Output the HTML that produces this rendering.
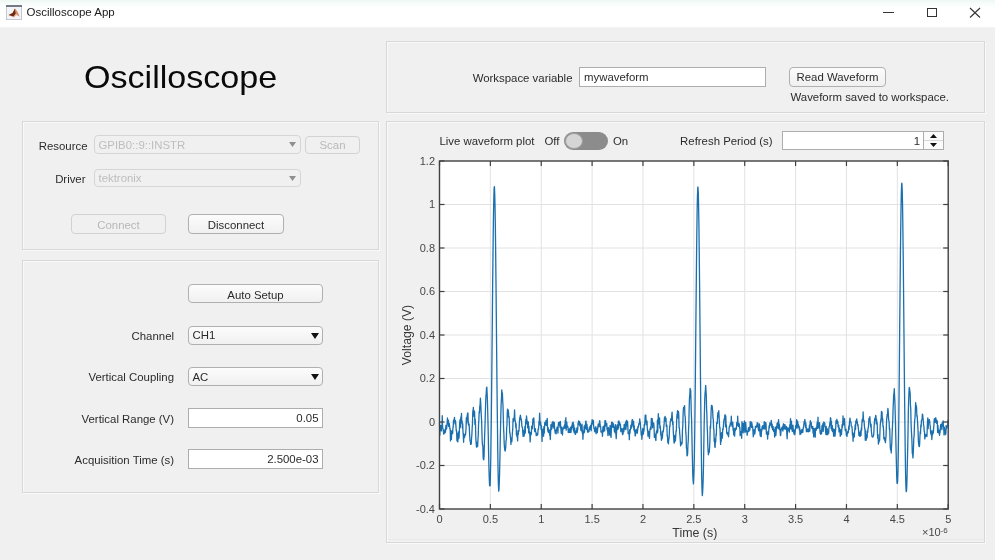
<!DOCTYPE html>
<html><head><meta charset="utf-8"><style>
html,body{margin:0;padding:0;}
body{width:995px;height:560px;position:relative;overflow:hidden;background:#f0f0f0;font-family:"Liberation Sans", sans-serif;}
#wrap{background:#f0f0f0;}
#wrap{position:absolute;left:0;top:0;width:995px;height:560px;filter:blur(0.4px);}
</style></head><body><div id="wrap">
<div style="position:absolute;left:0px;top:0px;width:995px;height:27px;box-sizing:border-box;background:linear-gradient(#edf8f3 0px,#f8fdfb 4px,#ffffff 8px,#ffffff 27px);"></div>
<div style="position:absolute;left:0px;top:27px;width:995px;height:1px;box-sizing:border-box;background:#f4f4f4;"></div>
<svg style="position:absolute;left:6px;top:5px" width="16" height="15" viewBox="0 0 16 15">
<rect x="0.5" y="0.5" width="15" height="14" fill="#f3f4f7" stroke="#c3c8d0"/>
<rect x="0" y="0" width="16" height="2" fill="#737a86"/>
<path d="M2.5 10 L6.5 8 L9 3.5 L11.5 7 L13.5 11.5 L10.5 10 L8 12.5 Z" fill="#eab9a0"/>
<path d="M2.5 10 L6.5 8 L9 3.5 L9.8 8.5 L7.5 11.5 Z" fill="#6e2a12"/>
<path d="M9 3.5 L11.5 7 L13.5 11.5 L10.5 9.5 Z" fill="#d88a63"/>
</svg>
<div style="position:absolute;left:26.50px;top:7.17px;font-size:11.5px;line-height:11.5px;color:#1a1a1a;white-space:nowrap;">Oscilloscope App</div>
<div style="position:absolute;left:883px;top:12px;width:11px;height:1px;background:#333"></div>
<div style="position:absolute;left:927px;top:8px;width:10px;height:9px;border:1px solid #333;box-sizing:border-box"></div>
<svg style="position:absolute;left:969px;top:7px" width="12" height="11" viewBox="0 0 12 11"><path d="M1 1 L11 10.5 M11 1 L1 10.5" stroke="#333" stroke-width="1.1"/></svg>
<div style="position:absolute;left:83.60px;top:60.71px;font-size:32px;line-height:32px;color:#0a0a0a;white-space:nowrap;transform:scaleX(1.065);transform-origin:left;">Oscilloscope</div>
<div style="position:absolute;left:22px;top:121px;width:357px;height:129px;box-sizing:border-box;border:1px solid #d8d8d8;box-shadow:inset 1px 1px 0 #f9f9f9, 1px 1px 0 #f9f9f9;"></div>
<div style="position:absolute;left:22px;top:260px;width:357px;height:233px;box-sizing:border-box;border:1px solid #d8d8d8;box-shadow:inset 1px 1px 0 #f9f9f9, 1px 1px 0 #f9f9f9;"></div>
<div style="position:absolute;left:386px;top:41px;width:599px;height:72px;box-sizing:border-box;border:1px solid #d8d8d8;box-shadow:inset 1px 1px 0 #f9f9f9, 1px 1px 0 #f9f9f9;"></div>
<div style="position:absolute;left:386px;top:121px;width:599px;height:422px;box-sizing:border-box;border:1px solid #d8d8d8;box-shadow:inset 1px 1px 0 #f9f9f9, 1px 1px 0 #f9f9f9;"></div>
<div style="position:absolute;left:388px;top:539px;width:596px;height:1px;background:#e9e9e9"></div>
<div style="position:absolute;right:907.50px;top:140.75px;font-size:11.4px;line-height:11.4px;color:#2b2b2b;white-space:nowrap;">Resource</div>
<div style="position:absolute;left:94px;top:135px;width:207px;height:19px;box-sizing:border-box;border:1px solid #d5d5d5;border-radius:4px;background:#f0f0f0;"></div>
<div style="position:absolute;left:98.50px;top:139.85px;font-size:11.4px;line-height:11.4px;color:#bdbdbd;white-space:nowrap;">GPIB0::9::INSTR</div>
<svg style="position:absolute;left:289.0px;top:142.0px" width="7" height="5"><path d="M0 0 L7 0 L3.5 5 Z" fill="#8f8f8f"/></svg>
<div style="position:absolute;left:305px;top:136px;width:55px;height:18px;box-sizing:border-box;border:1px solid #d2d2d2;border-radius:4px;background:#f0f0f0;"></div>
<div style="position:absolute;left:332.50px;top:140.45px;font-size:11.4px;line-height:11.4px;color:#b8b8b8;white-space:nowrap;transform:translateX(-50%) scaleX(1.0);">Scan</div>
<div style="position:absolute;right:909.50px;top:173.75px;font-size:11.4px;line-height:11.4px;color:#2b2b2b;white-space:nowrap;">Driver</div>
<div style="position:absolute;left:94px;top:169px;width:207px;height:18px;box-sizing:border-box;border:1px solid #d5d5d5;border-radius:4px;background:#f0f0f0;"></div>
<div style="position:absolute;left:98.50px;top:173.25px;font-size:11.4px;line-height:11.4px;color:#bdbdbd;white-space:nowrap;">tektronix</div>
<svg style="position:absolute;left:289.0px;top:175.5px" width="7" height="5"><path d="M0 0 L7 0 L3.5 5 Z" fill="#8f8f8f"/></svg>
<div style="position:absolute;left:71px;top:214px;width:95px;height:20px;box-sizing:border-box;border:1px solid #d2d2d2;border-radius:4px;background:#f0f0f0;"></div>
<div style="position:absolute;left:118.50px;top:220.15px;font-size:11.4px;line-height:11.4px;color:#b8b8b8;white-space:nowrap;transform:translateX(-50%) scaleX(1.0);">Connect</div>
<div style="position:absolute;left:188px;top:214px;width:96px;height:20px;box-sizing:border-box;border:1px solid #b0b0b0;border-radius:4px;background:linear-gradient(#fcfcfc,#f0f0f0);"></div>
<div style="position:absolute;left:236.00px;top:219.95px;font-size:11.4px;line-height:11.4px;color:#2b2b2b;white-space:nowrap;transform:translateX(-50%) scaleX(1.0);">Disconnect</div>
<div style="position:absolute;left:188px;top:284px;width:135px;height:19px;box-sizing:border-box;border:1px solid #b0b0b0;border-radius:4px;background:linear-gradient(#fcfcfc,#f0f0f0);"></div>
<div style="position:absolute;left:255.50px;top:289.55px;font-size:11.4px;line-height:11.4px;color:#2b2b2b;white-space:nowrap;transform:translateX(-50%) scaleX(1.0);">Auto Setup</div>
<div style="position:absolute;right:821.00px;top:330.85px;font-size:11.4px;line-height:11.4px;color:#2b2b2b;white-space:nowrap;">Channel</div>
<div style="position:absolute;left:188px;top:326px;width:135px;height:19px;box-sizing:border-box;border:1px solid #b0b0b0;border-radius:4px;background:linear-gradient(#fcfcfc,#f0f0f0);"></div>
<div style="position:absolute;left:192.50px;top:330.15px;font-size:11.4px;line-height:11.4px;color:#2b2b2b;white-space:nowrap;">CH1</div>
<svg style="position:absolute;left:310.5px;top:332.5px" width="8" height="6"><path d="M0 0 L8 0 L4.0 6 Z" fill="#111"/></svg>
<div style="position:absolute;right:821.00px;top:371.85px;font-size:11.4px;line-height:11.4px;color:#2b2b2b;white-space:nowrap;">Vertical Coupling</div>
<div style="position:absolute;left:188px;top:367px;width:135px;height:19px;box-sizing:border-box;border:1px solid #b0b0b0;border-radius:4px;background:linear-gradient(#fcfcfc,#f0f0f0);"></div>
<div style="position:absolute;left:192.50px;top:372.15px;font-size:11.4px;line-height:11.4px;color:#2b2b2b;white-space:nowrap;">AC</div>
<svg style="position:absolute;left:310.5px;top:373.5px" width="8" height="6"><path d="M0 0 L8 0 L4.0 6 Z" fill="#111"/></svg>
<div style="position:absolute;right:821.00px;top:413.75px;font-size:11.4px;line-height:11.4px;color:#2b2b2b;white-space:nowrap;">Vertical Range (V)</div>
<div style="position:absolute;left:188px;top:408px;width:135px;height:20px;box-sizing:border-box;border:1px solid #adadad;background:#fff;"></div>
<div style="position:absolute;right:676.50px;top:413.15px;font-size:11.4px;line-height:11.4px;color:#2b2b2b;white-space:nowrap;">0.05</div>
<div style="position:absolute;right:821.00px;top:454.55px;font-size:11.4px;line-height:11.4px;color:#2b2b2b;white-space:nowrap;">Acquisition Time (s)</div>
<div style="position:absolute;left:188px;top:449px;width:135px;height:20px;box-sizing:border-box;border:1px solid #adadad;background:#fff;"></div>
<div style="position:absolute;right:676.50px;top:453.85px;font-size:11.4px;line-height:11.4px;color:#2b2b2b;white-space:nowrap;">2.500e-03</div>
<div style="position:absolute;right:422.50px;top:72.75px;font-size:11.4px;line-height:11.4px;color:#2b2b2b;white-space:nowrap;">Workspace variable</div>
<div style="position:absolute;left:579px;top:67px;width:187px;height:20px;box-sizing:border-box;border:1px solid #adadad;background:#fff;"></div>
<div style="position:absolute;left:584.00px;top:72.35px;font-size:11.4px;line-height:11.4px;color:#2b2b2b;white-space:nowrap;">mywaveform</div>
<div style="position:absolute;left:789px;top:67px;width:97px;height:20px;box-sizing:border-box;border:1px solid #b0b0b0;border-radius:4px;background:linear-gradient(#fcfcfc,#f0f0f0);"></div>
<div style="position:absolute;left:837.50px;top:72.15px;font-size:11.4px;line-height:11.4px;color:#2b2b2b;white-space:nowrap;transform:translateX(-50%) scaleX(1.0);">Read Waveform</div>
<div style="position:absolute;left:790.50px;top:91.65px;font-size:11.4px;line-height:11.4px;color:#2b2b2b;white-space:nowrap;">Waveform saved to workspace.</div>
<div style="position:absolute;left:439.50px;top:136.45px;font-size:11.4px;line-height:11.4px;color:#2b2b2b;white-space:nowrap;">Live waveform plot</div>
<div style="position:absolute;left:544.50px;top:136.45px;font-size:11.4px;line-height:11.4px;color:#2b2b2b;white-space:nowrap;">Off</div>
<div style="position:absolute;left:564px;top:132px;width:44px;height:18px;box-sizing:border-box;border-radius:9px;background:#8c8c8c;"></div>
<div style="position:absolute;left:565px;top:133px;width:18px;height:16px;box-sizing:border-box;border-radius:50%;background:#d5d5d5;border:1px solid #a0a0a0;"></div>
<div style="position:absolute;left:613.00px;top:136.45px;font-size:11.4px;line-height:11.4px;color:#2b2b2b;white-space:nowrap;">On</div>
<div style="position:absolute;right:222.50px;top:136.25px;font-size:11.4px;line-height:11.4px;color:#2b2b2b;white-space:nowrap;">Refresh Period (s)</div>
<div style="position:absolute;left:782px;top:131px;width:162px;height:19px;box-sizing:border-box;border:1px solid #adadad;background:#fff;"></div>
<div style="position:absolute;left:923px;top:131px;width:21px;height:19px;box-sizing:border-box;border:1px solid #adadad;background:#fbfbfb;"></div>
<div style="position:absolute;left:924px;top:140px;width:19px;height:1px;background:#d8d8d8"></div>
<svg style="position:absolute;left:930px;top:134px" width="7" height="4"><path d="M0 4 L7 4 L3.5 0 Z" fill="#111"/></svg>
<svg style="position:absolute;left:930px;top:143px" width="7" height="4"><path d="M0 0 L7 0 L3.5 4 Z" fill="#111"/></svg>
<div style="position:absolute;right:75.00px;top:136.45px;font-size:11.4px;line-height:11.4px;color:#2b2b2b;white-space:nowrap;">1</div>
<svg style="position:absolute;left:0;top:0" width="995" height="560" viewBox="0 0 995 560">
<rect x="439.5" y="161.0" width="508.70000000000005" height="348.0" fill="#fff"/>
<line x1="490.37" y1="161.0" x2="490.37" y2="509.0" stroke="#e2e2e2" stroke-width="1"/>
<line x1="541.24" y1="161.0" x2="541.24" y2="509.0" stroke="#e2e2e2" stroke-width="1"/>
<line x1="592.11" y1="161.0" x2="592.11" y2="509.0" stroke="#e2e2e2" stroke-width="1"/>
<line x1="642.98" y1="161.0" x2="642.98" y2="509.0" stroke="#e2e2e2" stroke-width="1"/>
<line x1="693.85" y1="161.0" x2="693.85" y2="509.0" stroke="#e2e2e2" stroke-width="1"/>
<line x1="744.72" y1="161.0" x2="744.72" y2="509.0" stroke="#e2e2e2" stroke-width="1"/>
<line x1="795.59" y1="161.0" x2="795.59" y2="509.0" stroke="#e2e2e2" stroke-width="1"/>
<line x1="846.46" y1="161.0" x2="846.46" y2="509.0" stroke="#e2e2e2" stroke-width="1"/>
<line x1="897.33" y1="161.0" x2="897.33" y2="509.0" stroke="#e2e2e2" stroke-width="1"/>
<line x1="439.5" y1="465.50" x2="948.2" y2="465.50" stroke="#e2e2e2" stroke-width="1"/>
<line x1="439.5" y1="422.00" x2="948.2" y2="422.00" stroke="#e2e2e2" stroke-width="1"/>
<line x1="439.5" y1="378.50" x2="948.2" y2="378.50" stroke="#e2e2e2" stroke-width="1"/>
<line x1="439.5" y1="335.00" x2="948.2" y2="335.00" stroke="#e2e2e2" stroke-width="1"/>
<line x1="439.5" y1="291.50" x2="948.2" y2="291.50" stroke="#e2e2e2" stroke-width="1"/>
<line x1="439.5" y1="248.00" x2="948.2" y2="248.00" stroke="#e2e2e2" stroke-width="1"/>
<line x1="439.5" y1="204.50" x2="948.2" y2="204.50" stroke="#e2e2e2" stroke-width="1"/>
<polyline points="439.50,422.22 439.81,435.33 440.11,425.41 440.42,427.64 440.72,426.67 441.03,425.54 441.33,430.87 441.64,425.54 441.94,427.86 442.25,415.74 442.55,426.03 442.86,428.79 443.16,429.66 443.47,431.91 443.77,434.07 444.08,432.85 444.38,430.74 444.69,433.17 444.99,429.42 445.30,432.49 445.60,431.02 445.91,425.34 446.21,427.13 446.52,428.98 446.83,426.65 447.13,423.23 447.44,417.99 447.74,424.04 448.05,423.68 448.35,420.05 448.66,426.39 448.96,425.57 449.27,423.32 449.57,425.79 449.88,428.94 450.18,428.81 450.49,440.91 450.79,430.33 451.10,437.09 451.40,439.47 451.71,433.24 452.01,431.11 452.32,433.27 452.62,433.50 452.93,428.20 453.23,426.41 453.54,420.03 453.85,420.36 454.15,420.79 454.46,417.28 454.76,421.20 455.07,423.95 455.37,420.54 455.68,422.28 455.98,426.84 456.29,430.95 456.59,430.26 456.90,440.77 457.20,432.91 457.51,434.79 457.81,441.85 458.12,436.48 458.42,438.64 458.73,431.72 459.03,437.95 459.34,431.87 459.64,424.07 459.95,419.92 460.25,427.54 460.56,420.57 460.87,416.87 461.17,419.41 461.48,413.31 461.78,423.28 462.09,420.85 462.39,428.00 462.70,423.77 463.00,431.44 463.31,435.62 463.61,442.32 463.92,433.82 464.22,437.56 464.53,437.42 464.83,435.04 465.14,435.23 465.44,435.22 465.75,432.11 466.05,428.25 466.36,417.85 466.66,423.10 466.97,417.84 467.28,415.37 467.58,413.24 467.89,412.95 468.19,420.49 468.50,425.00 468.80,423.60 469.11,424.23 469.41,430.06 469.72,435.85 470.02,440.93 470.33,441.51 470.63,444.32 470.94,440.85 471.24,444.09 471.55,438.27 471.85,434.95 472.16,428.16 472.46,424.00 472.77,411.92 473.07,410.72 473.38,407.34 473.68,416.06 473.99,410.41 474.30,412.41 474.60,411.72 474.91,424.44 475.21,419.14 475.52,425.26 475.82,438.35 476.13,442.79 476.43,446.71 476.74,447.20 477.04,446.71 477.35,441.86 477.65,446.19 477.96,439.04 478.26,435.25 478.57,423.83 478.87,419.97 479.18,411.41 479.48,412.97 479.79,405.95 480.09,405.34 480.40,398.14 480.70,402.69 481.01,409.74 481.32,416.25 481.62,420.98 481.93,432.67 482.23,441.58 482.54,445.07 482.84,445.57 483.15,457.19 483.45,459.47 483.76,459.73 484.06,455.92 484.37,444.22 484.67,434.57 484.98,426.50 485.28,415.00 485.59,405.29 485.89,396.45 486.20,393.72 486.50,387.99 486.81,387.10 487.11,393.02 487.42,400.28 487.72,412.02 488.03,424.78 488.34,437.94 488.64,454.95 488.95,468.31 489.25,478.07 489.56,485.20 489.86,485.93 490.17,485.33 490.47,472.65 490.78,457.78 491.08,436.72 491.39,412.10 491.69,384.08 492.00,353.54 492.30,322.22 492.61,289.74 492.91,261.17 493.22,234.80 493.52,212.77 493.83,198.14 494.13,187.89 494.34,186.91 494.44,186.63 494.74,194.16 495.05,207.66 495.36,226.97 495.66,251.56 495.97,281.25 496.27,311.93 496.58,344.20 496.88,374.37 497.19,404.55 497.49,428.86 497.80,453.78 498.10,472.71 498.41,484.93 498.71,491.12 499.02,489.05 499.32,481.58 499.63,471.74 499.93,457.25 500.24,440.44 500.54,427.37 500.85,413.85 501.15,403.65 501.46,398.53 501.76,389.91 502.07,394.88 502.38,392.89 502.68,400.31 502.99,405.60 503.29,417.49 503.60,428.63 503.90,434.24 504.21,443.73 504.51,447.91 504.82,450.16 505.12,451.09 505.43,449.43 505.73,447.49 506.04,440.49 506.34,440.02 506.65,428.04 506.95,425.13 507.26,413.32 507.56,409.14 507.87,416.55 508.17,409.92 508.48,411.97 508.78,417.42 509.09,416.51 509.40,424.02 509.70,432.74 510.01,432.79 510.31,436.37 510.62,438.56 510.92,444.38 511.23,439.21 511.53,437.97 511.84,441.63 512.14,437.17 512.45,431.81 512.75,429.42 513.06,418.65 513.36,420.05 513.67,421.24 513.97,419.02 514.28,416.34 514.58,409.82 514.89,419.00 515.19,420.54 515.50,422.40 515.81,427.40 516.11,423.58 516.42,435.05 516.72,433.46 517.03,436.72 517.33,435.87 517.64,440.94 517.94,430.67 518.25,434.38 518.55,431.31 518.86,431.38 519.16,427.86 519.47,421.28 519.77,417.85 520.08,417.10 520.38,415.05 520.69,416.75 520.99,419.85 521.30,419.11 521.60,422.10 521.91,426.79 522.21,426.92 522.52,427.70 522.83,433.00 523.13,436.32 523.44,433.87 523.74,430.33 524.05,436.06 524.35,434.32 524.66,432.54 524.96,426.13 525.27,433.03 525.57,423.98 525.88,419.41 526.18,423.94 526.49,415.95 526.79,418.56 527.10,422.27 527.40,421.04 527.71,427.94 528.01,427.00 528.32,421.93 528.62,432.44 528.93,426.14 529.23,433.67 529.54,431.56 529.85,435.01 530.15,441.88 530.46,436.09 530.76,432.49 531.07,434.87 531.37,433.49 531.68,426.20 531.98,427.30 532.29,428.76 532.59,424.37 532.90,418.87 533.20,422.72 533.51,418.82 533.81,417.95 534.12,423.91 534.42,429.19 534.73,431.63 535.03,429.68 535.34,428.69 535.64,432.01 535.95,432.19 536.25,435.72 536.56,433.42 536.87,435.19 537.17,433.68 537.48,435.17 537.78,434.32 538.09,429.19 538.39,429.34 538.70,427.34 539.00,421.16 539.31,422.75 539.61,413.27 539.92,419.55 540.22,425.03 540.53,421.88 540.83,424.63 541.14,429.47 541.44,425.73 541.75,433.05 542.05,441.38 542.36,430.67 542.66,435.56 542.97,429.27 543.27,435.41 543.58,436.22 543.89,426.73 544.19,433.27 544.50,427.79 544.80,422.41 545.11,425.02 545.41,424.41 545.72,422.99 546.02,420.32 546.33,425.35 546.63,421.50 546.94,422.48 547.24,418.33 547.55,427.88 547.85,431.16 548.16,427.63 548.46,432.42 548.77,431.41 549.07,432.61 549.38,429.78 549.68,435.22 549.99,432.97 550.29,439.56 550.60,433.31 550.91,424.54 551.21,429.85 551.52,428.51 551.82,428.85 552.13,422.41 552.43,423.01 552.74,426.95 553.04,421.50 553.35,423.32 553.65,422.75 553.96,428.18 554.26,422.29 554.57,427.73 554.87,430.67 555.18,433.04 555.48,433.09 555.79,430.26 556.09,433.84 556.40,429.49 556.70,430.39 557.01,427.12 557.31,427.56 557.62,428.92 557.93,433.19 558.23,425.21 558.54,422.64 558.84,423.74 559.15,422.09 559.45,425.13 559.76,425.16 560.06,427.52 560.37,421.46 560.67,426.30 560.98,429.58 561.28,433.45 561.59,431.07 561.89,427.23 562.20,430.96 562.50,434.98 562.81,428.45 563.11,428.11 563.42,428.79 563.72,428.41 564.03,426.12 564.33,426.71 564.64,424.73 564.95,428.30 565.25,420.39 565.56,423.57 565.86,417.77 566.17,430.17 566.47,422.19 566.78,422.07 567.08,427.09 567.39,425.84 567.69,426.21 568.00,427.98 568.30,432.51 568.61,432.22 568.91,429.32 569.22,428.83 569.52,432.34 569.83,431.99 570.13,430.86 570.44,427.31 570.74,432.50 571.05,432.09 571.36,426.44 571.66,429.09 571.97,426.63 572.27,424.00 572.58,422.55 572.88,427.41 573.19,422.17 573.49,430.80 573.80,424.76 574.10,432.42 574.41,432.74 574.71,428.11 575.02,432.37 575.32,434.39 575.63,433.85 575.93,431.27 576.24,432.68 576.54,432.09 576.85,427.98 577.15,432.32 577.46,430.39 577.76,429.30 578.07,422.97 578.38,422.48 578.68,420.79 578.99,424.33 579.29,424.57 579.60,421.72 579.90,426.07 580.21,423.19 580.51,424.59 580.82,430.13 581.12,429.49 581.43,430.76 581.73,426.11 582.04,424.26 582.34,432.87 582.65,432.61 582.95,439.32 583.26,431.13 583.56,430.91 583.87,433.06 584.17,426.20 584.48,432.13 584.78,426.88 585.09,424.85 585.40,428.38 585.70,421.59 586.01,420.96 586.31,428.72 586.62,429.43 586.92,424.23 587.23,427.27 587.53,432.08 587.84,430.50 588.14,431.04 588.45,432.07 588.75,429.76 589.06,431.43 589.36,427.19 589.67,428.02 589.97,429.44 590.28,427.28 590.58,425.40 590.89,426.07 591.19,430.75 591.50,423.32 591.80,424.84 592.11,419.54 592.42,423.91 592.72,422.68 593.03,423.70 593.33,420.32 593.64,425.87 593.94,428.38 594.25,427.83 594.55,431.29 594.86,430.50 595.16,431.85 595.47,431.55 595.77,426.73 596.08,433.69 596.38,431.87 596.69,431.82 596.99,428.17 597.30,432.66 597.60,429.97 597.91,426.82 598.21,424.02 598.52,425.04 598.82,425.92 599.13,426.88 599.44,422.86 599.74,420.54 600.05,424.75 600.35,426.18 600.66,426.56 600.96,431.98 601.27,431.19 601.57,432.04 601.88,431.07 602.18,432.51 602.49,436.23 602.79,428.87 603.10,426.59 603.40,431.71 603.71,428.66 604.01,427.91 604.32,425.15 604.62,430.93 604.93,420.57 605.23,426.20 605.54,420.53 605.84,424.06 606.15,425.77 606.46,425.59 606.76,423.28 607.07,429.69 607.37,429.36 607.68,430.85 607.98,435.69 608.29,427.42 608.59,430.28 608.90,432.47 609.20,428.89 609.51,435.04 609.81,431.74 610.12,425.39 610.42,426.60 610.73,435.21 611.03,437.42 611.34,429.37 611.64,422.10 611.95,426.14 612.25,425.03 612.56,422.52 612.86,427.41 613.17,424.70 613.48,423.82 613.78,425.87 614.09,427.24 614.39,431.42 614.70,429.07 615.00,432.79 615.31,428.12 615.61,424.56 615.92,434.61 616.22,438.62 616.53,432.63 616.83,429.29 617.14,426.17 617.44,424.93 617.75,429.46 618.05,428.45 618.36,421.33 618.66,427.93 618.97,421.01 619.27,425.07 619.58,422.43 619.89,423.29 620.19,423.98 620.50,424.93 620.80,431.60 621.11,428.82 621.41,430.72 621.72,430.66 622.02,428.42 622.33,433.26 622.63,434.53 622.94,434.18 623.24,432.21 623.55,428.04 623.85,431.71 624.16,424.52 624.46,426.01 624.77,426.54 625.07,429.06 625.38,423.69 625.68,422.07 625.99,429.63 626.29,421.04 626.60,420.37 626.91,425.32 627.21,425.98 627.52,421.33 627.82,426.12 628.13,433.67 628.43,431.84 628.74,432.85 629.04,433.08 629.35,439.72 629.65,429.77 629.96,433.26 630.26,429.82 630.57,429.55 630.87,425.23 631.18,427.55 631.48,427.97 631.79,423.04 632.09,419.78 632.40,424.78 632.70,419.75 633.01,423.60 633.31,426.83 633.62,421.62 633.93,430.00 634.23,425.74 634.54,431.64 634.84,429.90 635.15,435.95 635.45,435.35 635.76,429.79 636.06,432.31 636.37,432.23 636.67,432.81 636.98,428.95 637.28,433.23 637.59,430.97 637.89,426.66 638.20,427.50 638.50,426.14 638.81,423.60 639.11,423.58 639.42,424.05 639.72,418.91 640.03,421.88 640.33,422.48 640.64,427.77 640.95,430.75 641.25,435.10 641.56,433.02 641.86,439.30 642.17,435.33 642.47,431.39 642.78,428.49 643.08,429.75 643.39,434.19 643.69,428.64 644.00,430.93 644.30,424.36 644.61,425.62 644.91,421.32 645.22,415.08 645.52,419.53 645.83,415.14 646.13,422.12 646.44,424.56 646.74,420.80 647.05,421.22 647.35,429.95 647.66,429.83 647.97,436.11 648.27,433.76 648.58,431.44 648.88,434.91 649.19,436.34 649.49,438.28 649.80,431.76 650.10,428.91 650.41,427.67 650.71,426.71 651.02,429.40 651.32,418.37 651.63,422.47 651.93,421.79 652.24,418.74 652.54,427.79 652.85,422.24 653.15,423.85 653.46,424.12 653.76,423.25 654.07,428.12 654.37,437.26 654.68,434.56 654.99,434.30 655.29,435.30 655.60,439.82 655.90,440.47 656.21,432.56 656.51,431.45 656.82,430.40 657.12,433.19 657.43,420.11 657.73,432.09 658.04,422.50 658.34,413.71 658.65,419.93 658.95,418.87 659.26,424.04 659.56,417.87 659.87,428.07 660.17,425.87 660.48,428.92 660.78,435.14 661.09,431.55 661.39,440.35 661.70,439.22 662.01,437.53 662.31,438.16 662.62,434.13 662.92,430.69 663.23,431.81 663.53,429.66 663.84,426.62 664.14,423.40 664.45,417.53 664.75,419.03 665.06,416.34 665.36,417.99 665.67,421.34 665.97,418.05 666.28,426.44 666.58,426.32 666.89,425.08 667.19,436.10 667.50,435.72 667.80,442.52 668.11,440.53 668.41,443.82 668.72,439.62 669.03,438.43 669.33,433.80 669.64,426.16 669.94,426.56 670.25,421.81 670.55,420.67 670.86,418.56 671.16,418.53 671.47,420.69 671.77,415.36 672.08,412.11 672.38,418.13 672.69,424.53 672.99,421.72 673.30,432.07 673.60,436.45 673.91,441.52 674.21,443.14 674.52,442.24 674.82,435.43 675.13,440.89 675.44,440.94 675.74,436.19 676.05,430.87 676.35,430.92 676.66,420.92 676.96,415.27 677.27,413.38 677.57,410.67 677.88,415.93 678.18,418.14 678.49,411.43 678.79,415.59 679.10,428.10 679.40,427.79 679.71,433.39 680.01,436.44 680.32,441.23 680.62,445.89 680.93,444.76 681.23,444.19 681.54,442.48 681.84,444.11 682.15,442.56 682.46,430.16 682.76,426.75 683.07,415.45 683.37,409.33 683.68,407.33 683.98,407.59 684.29,406.61 684.59,405.71 684.90,415.50 685.20,416.41 685.51,423.85 685.81,432.40 686.12,436.03 686.42,448.29 686.73,448.17 687.03,455.81 687.34,455.36 687.64,453.56 687.95,444.56 688.25,440.98 688.56,429.73 688.86,423.10 689.17,408.33 689.48,398.16 689.78,395.31 690.09,388.40 690.39,390.13 690.70,389.98 691.00,400.55 691.31,413.23 691.61,420.25 691.92,436.69 692.22,452.05 692.53,464.43 692.83,476.06 693.14,481.03 693.44,483.88 693.75,477.99 694.05,469.59 694.36,456.66 694.66,437.41 694.97,413.45 695.27,386.47 695.58,354.76 695.88,322.76 696.19,291.49 696.50,261.52 696.80,234.50 697.11,212.42 697.41,196.89 697.72,189.18 697.92,187.01 698.02,188.40 698.33,193.88 698.63,207.97 698.94,226.52 699.24,252.58 699.55,281.20 699.85,311.83 700.16,343.51 700.46,375.95 700.77,404.35 701.07,429.70 701.38,455.56 701.68,476.50 701.99,489.12 702.29,495.57 702.60,493.01 702.90,486.97 703.21,477.66 703.52,464.14 703.82,444.43 704.13,426.25 704.43,412.98 704.74,399.48 705.04,393.36 705.35,390.50 705.65,385.52 705.96,389.97 706.26,394.86 706.57,408.21 706.87,414.43 707.18,426.70 707.48,432.79 707.79,444.64 708.09,450.98 708.40,454.73 708.70,450.85 709.01,452.84 709.31,451.42 709.62,446.77 709.92,440.27 710.23,425.95 710.54,428.53 710.84,419.57 711.15,410.32 711.45,405.47 711.76,408.01 712.06,405.70 712.37,407.98 712.67,410.95 712.98,418.46 713.28,418.88 713.59,428.56 713.89,429.47 714.20,441.54 714.50,438.31 714.81,446.58 715.11,447.47 715.42,440.16 715.72,441.74 716.03,434.46 716.33,435.06 716.64,422.68 716.94,423.45 717.25,423.36 717.56,416.62 717.86,412.73 718.17,417.15 718.47,413.78 718.78,410.72 719.08,416.78 719.39,422.55 719.69,427.69 720.00,427.65 720.30,437.20 720.61,444.45 720.91,439.09 721.22,441.32 721.52,432.72 721.83,436.71 722.13,438.42 722.44,436.62 722.74,428.81 723.05,429.96 723.35,426.40 723.66,422.44 723.97,419.98 724.27,418.73 724.58,418.22 724.88,414.95 725.19,414.82 725.49,426.74 725.80,416.02 726.10,425.90 726.41,424.98 726.71,433.32 727.02,432.03 727.32,433.79 727.63,434.92 727.93,432.81 728.24,432.96 728.54,436.82 728.85,432.50 729.15,427.98 729.46,425.99 729.76,427.01 730.07,424.94 730.37,423.01 730.68,424.83 730.99,424.86 731.29,416.22 731.60,422.81 731.90,422.43 732.21,426.51 732.51,422.04 732.82,422.52 733.12,430.34 733.43,429.72 733.73,434.87 734.04,428.05 734.34,430.97 734.65,436.21 734.95,429.22 735.26,430.88 735.56,429.34 735.87,427.93 736.17,429.41 736.48,427.43 736.78,422.51 737.09,423.47 737.39,425.52 737.70,416.19 738.01,423.21 738.31,424.91 738.62,426.32 738.92,423.37 739.23,423.96 739.53,427.68 739.84,427.22 740.14,435.68 740.45,433.21 740.75,434.12 741.06,432.88 741.36,431.20 741.67,438.31 741.97,421.66 742.28,432.64 742.58,427.61 742.89,424.76 743.19,423.38 743.50,424.11 743.80,432.83 744.11,426.74 744.41,420.96 744.72,426.30 745.03,427.29 745.33,432.15 745.64,422.40 745.94,425.83 746.25,431.42 746.55,430.36 746.86,431.35 747.16,435.27 747.47,433.23 747.77,431.78 748.08,430.66 748.38,427.94 748.69,430.85 748.99,431.27 749.30,427.42 749.60,429.31 749.91,430.02 750.21,421.70 750.52,425.57 750.82,423.56 751.13,421.82 751.43,427.40 751.74,422.64 752.05,424.07 752.35,426.81 752.66,426.51 752.96,431.25 753.27,436.83 753.57,431.98 753.88,434.65 754.18,429.68 754.49,431.64 754.79,433.82 755.10,431.50 755.40,426.68 755.71,426.28 756.01,427.43 756.32,426.03 756.62,427.05 756.93,425.63 757.23,422.71 757.54,424.44 757.84,423.09 758.15,427.66 758.45,429.93 758.76,430.89 759.07,428.12 759.37,423.94 759.68,425.58 759.98,433.36 760.29,436.01 760.59,429.57 760.90,430.97 761.20,436.60 761.51,428.92 761.81,430.99 762.12,426.61 762.42,428.52 762.73,425.66 763.03,426.19 763.34,428.96 763.64,425.84 763.95,426.52 764.25,421.58 764.56,427.13 764.86,429.10 765.17,423.00 765.47,422.51 765.78,422.70 766.09,424.98 766.39,434.10 766.70,432.73 767.00,433.19 767.31,432.22 767.61,439.03 767.92,432.47 768.22,431.22 768.53,434.27 768.83,430.07 769.14,425.68 769.44,427.96 769.75,423.69 770.05,422.75 770.36,423.71 770.66,423.20 770.97,425.24 771.27,420.41 771.58,426.05 771.88,427.47 772.19,424.18 772.50,429.68 772.80,427.39 773.11,426.65 773.41,430.68 773.72,431.44 774.02,429.52 774.33,430.24 774.63,437.09 774.94,435.92 775.24,427.10 775.55,428.96 775.85,435.32 776.16,431.87 776.46,426.52 776.77,428.55 777.07,423.34 777.38,424.02 777.68,422.60 777.99,427.84 778.29,422.91 778.60,419.65 778.90,429.08 779.21,423.83 779.52,426.06 779.82,428.24 780.13,431.40 780.43,435.49 780.74,435.08 781.04,430.19 781.35,429.30 781.65,427.99 781.96,427.93 782.26,427.04 782.57,429.93 782.87,431.07 783.18,425.64 783.48,423.77 783.79,424.32 784.09,428.81 784.40,425.71 784.70,428.91 785.01,424.59 785.31,429.12 785.62,427.51 785.92,427.22 786.23,428.99 786.54,426.35 786.84,434.81 787.15,438.76 787.45,429.58 787.76,428.20 788.06,427.77 788.37,430.60 788.67,428.91 788.98,429.07 789.28,432.19 789.59,428.79 789.89,424.45 790.20,426.83 790.50,418.64 790.81,428.84 791.11,425.51 791.42,421.19 791.72,427.12 792.03,429.67 792.33,431.48 792.64,430.75 792.94,425.12 793.25,429.53 793.56,430.06 793.86,433.80 794.17,429.90 794.47,432.05 794.78,434.75 795.08,432.59 795.39,429.62 795.69,425.54 796.00,428.08 796.30,425.22 796.61,419.55 796.91,427.31 797.22,428.12 797.52,421.14 797.83,422.93 798.13,425.03 798.44,424.70 798.74,427.50 799.05,426.07 799.35,429.86 799.66,427.56 799.96,434.57 800.27,434.28 800.58,431.94 800.88,433.90 801.19,430.17 801.49,431.91 801.80,432.63 802.10,429.32 802.41,430.41 802.71,432.35 803.02,429.92 803.32,427.90 803.63,426.13 803.93,423.94 804.24,421.33 804.54,422.63 804.85,419.43 805.15,421.80 805.46,427.29 805.76,422.86 806.07,425.49 806.37,431.61 806.68,430.25 806.98,428.60 807.29,431.63 807.60,429.37 807.90,431.01 808.21,429.49 808.51,431.74 808.82,428.55 809.12,429.62 809.43,425.24 809.73,431.30 810.04,424.17 810.34,420.67 810.65,422.30 810.95,424.09 811.26,422.66 811.56,427.49 811.87,428.34 812.17,428.00 812.48,428.57 812.78,426.40 813.09,433.21 813.39,428.40 813.70,436.93 814.00,434.92 814.31,432.66 814.62,428.69 814.92,433.43 815.23,437.15 815.53,428.21 815.84,428.33 816.14,430.29 816.45,429.02 816.75,427.00 817.06,423.90 817.36,421.82 817.67,428.36 817.97,417.26 818.28,425.05 818.58,427.06 818.89,425.05 819.19,428.06 819.50,422.55 819.80,427.49 820.11,432.91 820.41,433.65 820.72,434.30 821.03,433.77 821.33,430.25 821.64,433.50 821.94,425.57 822.25,429.49 822.55,428.35 822.86,423.70 823.16,431.43 823.47,427.29 823.77,421.96 824.08,423.47 824.38,423.64 824.69,422.89 824.99,426.77 825.30,426.58 825.60,431.52 825.91,434.48 826.21,426.28 826.52,434.18 826.82,434.48 827.13,428.67 827.43,429.94 827.74,434.59 828.05,434.03 828.35,431.73 828.66,433.17 828.96,427.19 829.27,426.96 829.57,425.59 829.88,422.46 830.18,421.61 830.49,417.60 830.79,418.42 831.10,428.51 831.40,421.24 831.71,428.43 832.01,430.69 832.32,425.67 832.62,431.52 832.93,431.80 833.23,428.82 833.54,435.03 833.84,436.27 834.15,432.63 834.45,429.52 834.76,430.83 835.07,435.99 835.37,431.78 835.68,428.66 835.98,420.70 836.29,422.35 836.59,421.23 836.90,419.27 837.20,423.42 837.51,421.05 837.81,421.53 838.12,426.97 838.42,425.37 838.73,425.20 839.03,431.92 839.34,427.86 839.64,429.54 839.95,429.93 840.25,436.25 840.56,433.89 840.86,429.61 841.17,430.92 841.47,434.58 841.78,429.98 842.09,424.60 842.39,427.32 842.70,424.17 843.00,415.97 843.31,422.73 843.61,422.24 843.92,424.80 844.22,424.13 844.53,418.50 844.83,424.81 845.14,429.70 845.44,430.83 845.75,429.90 846.05,429.39 846.36,435.48 846.66,432.12 846.97,436.32 847.27,433.72 847.58,432.60 847.88,431.18 848.19,432.74 848.49,430.04 848.80,425.94 849.11,429.42 849.41,423.16 849.72,420.70 850.02,418.17 850.33,421.14 850.63,421.89 850.94,421.80 851.24,425.90 851.55,426.15 851.85,426.37 852.16,428.93 852.46,435.01 852.77,434.56 853.07,441.28 853.38,433.10 853.68,437.20 853.99,434.23 854.29,437.08 854.60,432.25 854.90,428.54 855.21,424.63 855.51,429.52 855.82,420.79 856.13,422.25 856.43,423.06 856.74,418.85 857.04,421.51 857.35,422.51 857.65,425.34 857.96,424.57 858.26,427.47 858.57,430.51 858.87,435.15 859.18,435.71 859.48,434.31 859.79,432.37 860.09,436.34 860.40,431.22 860.70,434.14 861.01,435.45 861.31,427.85 861.62,430.18 861.92,423.55 862.23,419.32 862.53,421.81 862.84,420.08 863.15,411.98 863.45,419.23 863.76,420.38 864.06,420.66 864.37,425.68 864.67,428.26 864.98,429.47 865.28,440.33 865.59,430.74 865.89,439.65 866.20,440.28 866.50,435.14 866.81,435.66 867.11,437.78 867.42,431.00 867.72,432.42 868.03,428.26 868.33,428.05 868.64,423.73 868.94,418.34 869.25,418.29 869.55,417.70 869.86,416.68 870.17,421.26 870.47,425.45 870.78,427.05 871.08,424.14 871.39,431.92 871.69,433.56 872.00,436.75 872.30,436.85 872.61,436.52 872.91,437.15 873.22,436.01 873.52,435.58 873.83,432.91 874.13,425.97 874.44,421.81 874.74,418.49 875.05,418.92 875.35,420.19 875.66,415.32 875.96,415.93 876.27,423.90 876.58,419.26 876.88,422.93 877.19,422.98 877.49,434.84 877.80,438.38 878.10,434.59 878.41,444.07 878.71,441.45 879.02,442.07 879.32,440.27 879.63,440.48 879.93,432.18 880.24,424.83 880.54,422.71 880.85,419.22 881.15,418.80 881.46,411.38 881.76,413.34 882.07,412.14 882.37,421.64 882.68,418.59 882.98,426.66 883.29,426.22 883.60,430.91 883.90,438.89 884.21,438.26 884.51,437.58 884.82,440.63 885.12,440.00 885.43,442.61 885.73,438.97 886.04,436.15 886.34,427.61 886.65,419.39 886.95,416.86 887.26,414.10 887.56,414.51 887.87,408.42 888.17,410.71 888.48,417.62 888.78,420.73 889.09,421.67 889.39,429.22 889.70,428.26 890.00,439.05 890.31,447.41 890.62,449.80 890.92,446.16 891.23,452.97 891.53,445.91 891.84,442.10 892.14,432.82 892.45,427.12 892.75,420.54 893.06,409.49 893.36,402.69 893.67,394.58 893.97,393.30 894.28,388.70 894.58,395.94 894.89,401.41 895.19,413.02 895.50,423.82 895.80,437.70 896.11,451.57 896.41,463.68 896.72,476.16 897.02,483.33 897.33,483.35 897.64,481.13 897.94,471.94 898.25,455.54 898.55,435.94 898.86,414.09 899.16,384.67 899.47,353.02 899.77,320.61 900.08,289.24 900.38,257.65 900.69,232.23 900.99,209.98 901.30,193.99 901.60,185.31 901.81,183.12 901.91,183.41 902.21,190.35 902.52,202.95 902.82,224.10 903.13,249.03 903.43,277.04 903.74,309.63 904.04,341.44 904.35,373.95 904.66,403.15 904.96,429.01 905.27,453.30 905.57,472.99 905.88,485.84 906.18,491.65 906.49,490.95 906.79,486.23 907.10,474.96 907.40,460.65 907.71,447.87 908.01,432.86 908.32,412.76 908.62,400.65 908.93,393.63 909.23,387.45 909.54,388.42 909.84,391.48 910.15,393.02 910.45,405.03 910.76,408.89 911.06,423.03 911.37,430.70 911.68,435.48 911.98,442.79 912.29,453.52 912.59,452.35 912.90,457.96 913.20,454.16 913.51,446.83 913.81,437.72 914.12,436.22 914.42,425.63 914.73,419.93 915.03,417.96 915.34,410.12 915.64,402.53 915.95,406.41 916.25,405.70 916.56,407.49 916.86,416.34 917.17,415.56 917.47,420.33 917.78,425.61 918.08,431.51 918.39,440.99 918.70,444.24 919.00,446.28 919.31,446.60 919.61,444.79 919.92,436.67 920.22,431.59 920.53,433.72 920.83,424.89 921.14,426.96 921.44,420.43 921.75,419.65 922.05,419.81 922.36,414.11 922.66,414.62 922.97,417.76 923.27,420.66 923.58,425.24 923.88,426.17 924.19,431.13 924.49,431.83 924.80,438.93 925.11,436.52 925.41,436.72 925.72,434.60 926.02,434.38 926.33,435.38 926.63,435.78 926.94,436.59 927.24,428.20 927.55,421.11 927.85,417.90 928.16,428.70 928.46,421.96 928.77,420.15 929.07,422.43 929.38,419.58 929.68,421.52 929.99,425.16 930.29,425.92 930.60,432.96 930.90,433.27 931.21,434.94 931.51,430.94 931.82,439.55 932.13,435.57 932.43,432.29 932.74,434.01 933.04,430.11 933.35,432.96 933.65,427.85 933.96,424.59 934.26,418.84 934.57,421.95 934.87,418.72 935.18,422.36 935.48,421.89 935.79,417.68 936.09,421.38 936.40,419.89 936.70,423.35 937.01,420.51 937.31,421.19 937.62,432.37 937.92,425.34 938.23,430.58 938.53,431.01 938.84,432.99 939.15,430.27 939.45,435.31 939.76,433.32 940.06,432.40 940.37,428.02 940.67,424.90 940.98,424.32 941.28,424.44 941.59,426.59 941.89,429.62 942.20,422.82 942.50,423.69 942.81,423.42 943.11,420.79 943.42,426.52 943.72,427.54 944.03,434.99 944.33,427.24 944.64,430.00 944.94,432.85 945.25,429.97 945.55,434.62 945.86,433.13 946.17,425.29 946.47,428.51 946.78,427.33 947.08,427.06 947.39,426.48 947.69,426.94 948.00,419.70" fill="none" stroke="#1a6fae" stroke-width="1.3" stroke-linejoin="round"/>
<rect x="439.5" y="161.0" width="508.70000000000005" height="348.0" fill="none" stroke="#404040" stroke-width="1.4"/>
<line x1="439.50" y1="509.0" x2="439.50" y2="504.0" stroke="#404040" stroke-width="1.2"/>
<line x1="439.50" y1="161.0" x2="439.50" y2="166.0" stroke="#404040" stroke-width="1.2"/>
<line x1="490.37" y1="509.0" x2="490.37" y2="504.0" stroke="#404040" stroke-width="1.2"/>
<line x1="490.37" y1="161.0" x2="490.37" y2="166.0" stroke="#404040" stroke-width="1.2"/>
<line x1="541.24" y1="509.0" x2="541.24" y2="504.0" stroke="#404040" stroke-width="1.2"/>
<line x1="541.24" y1="161.0" x2="541.24" y2="166.0" stroke="#404040" stroke-width="1.2"/>
<line x1="592.11" y1="509.0" x2="592.11" y2="504.0" stroke="#404040" stroke-width="1.2"/>
<line x1="592.11" y1="161.0" x2="592.11" y2="166.0" stroke="#404040" stroke-width="1.2"/>
<line x1="642.98" y1="509.0" x2="642.98" y2="504.0" stroke="#404040" stroke-width="1.2"/>
<line x1="642.98" y1="161.0" x2="642.98" y2="166.0" stroke="#404040" stroke-width="1.2"/>
<line x1="693.85" y1="509.0" x2="693.85" y2="504.0" stroke="#404040" stroke-width="1.2"/>
<line x1="693.85" y1="161.0" x2="693.85" y2="166.0" stroke="#404040" stroke-width="1.2"/>
<line x1="744.72" y1="509.0" x2="744.72" y2="504.0" stroke="#404040" stroke-width="1.2"/>
<line x1="744.72" y1="161.0" x2="744.72" y2="166.0" stroke="#404040" stroke-width="1.2"/>
<line x1="795.59" y1="509.0" x2="795.59" y2="504.0" stroke="#404040" stroke-width="1.2"/>
<line x1="795.59" y1="161.0" x2="795.59" y2="166.0" stroke="#404040" stroke-width="1.2"/>
<line x1="846.46" y1="509.0" x2="846.46" y2="504.0" stroke="#404040" stroke-width="1.2"/>
<line x1="846.46" y1="161.0" x2="846.46" y2="166.0" stroke="#404040" stroke-width="1.2"/>
<line x1="897.33" y1="509.0" x2="897.33" y2="504.0" stroke="#404040" stroke-width="1.2"/>
<line x1="897.33" y1="161.0" x2="897.33" y2="166.0" stroke="#404040" stroke-width="1.2"/>
<line x1="948.20" y1="509.0" x2="948.20" y2="504.0" stroke="#404040" stroke-width="1.2"/>
<line x1="948.20" y1="161.0" x2="948.20" y2="166.0" stroke="#404040" stroke-width="1.2"/>
<line x1="439.5" y1="509.00" x2="444.5" y2="509.00" stroke="#404040" stroke-width="1.2"/>
<line x1="948.2" y1="509.00" x2="943.2" y2="509.00" stroke="#404040" stroke-width="1.2"/>
<line x1="439.5" y1="465.50" x2="444.5" y2="465.50" stroke="#404040" stroke-width="1.2"/>
<line x1="948.2" y1="465.50" x2="943.2" y2="465.50" stroke="#404040" stroke-width="1.2"/>
<line x1="439.5" y1="422.00" x2="444.5" y2="422.00" stroke="#404040" stroke-width="1.2"/>
<line x1="948.2" y1="422.00" x2="943.2" y2="422.00" stroke="#404040" stroke-width="1.2"/>
<line x1="439.5" y1="378.50" x2="444.5" y2="378.50" stroke="#404040" stroke-width="1.2"/>
<line x1="948.2" y1="378.50" x2="943.2" y2="378.50" stroke="#404040" stroke-width="1.2"/>
<line x1="439.5" y1="335.00" x2="444.5" y2="335.00" stroke="#404040" stroke-width="1.2"/>
<line x1="948.2" y1="335.00" x2="943.2" y2="335.00" stroke="#404040" stroke-width="1.2"/>
<line x1="439.5" y1="291.50" x2="444.5" y2="291.50" stroke="#404040" stroke-width="1.2"/>
<line x1="948.2" y1="291.50" x2="943.2" y2="291.50" stroke="#404040" stroke-width="1.2"/>
<line x1="439.5" y1="248.00" x2="444.5" y2="248.00" stroke="#404040" stroke-width="1.2"/>
<line x1="948.2" y1="248.00" x2="943.2" y2="248.00" stroke="#404040" stroke-width="1.2"/>
<line x1="439.5" y1="204.50" x2="444.5" y2="204.50" stroke="#404040" stroke-width="1.2"/>
<line x1="948.2" y1="204.50" x2="943.2" y2="204.50" stroke="#404040" stroke-width="1.2"/>
<line x1="439.5" y1="161.00" x2="444.5" y2="161.00" stroke="#404040" stroke-width="1.2"/>
<line x1="948.2" y1="161.00" x2="943.2" y2="161.00" stroke="#404040" stroke-width="1.2"/>
</svg>
<div style="position:absolute;left:439.50px;top:513.69px;font-size:11px;line-height:11px;color:#474747;white-space:nowrap;transform:translateX(-50%) scaleX(1.0);">0</div>
<div style="position:absolute;left:490.37px;top:513.69px;font-size:11px;line-height:11px;color:#474747;white-space:nowrap;transform:translateX(-50%) scaleX(1.0);">0.5</div>
<div style="position:absolute;left:541.24px;top:513.69px;font-size:11px;line-height:11px;color:#474747;white-space:nowrap;transform:translateX(-50%) scaleX(1.0);">1</div>
<div style="position:absolute;left:592.11px;top:513.69px;font-size:11px;line-height:11px;color:#474747;white-space:nowrap;transform:translateX(-50%) scaleX(1.0);">1.5</div>
<div style="position:absolute;left:642.98px;top:513.69px;font-size:11px;line-height:11px;color:#474747;white-space:nowrap;transform:translateX(-50%) scaleX(1.0);">2</div>
<div style="position:absolute;left:693.85px;top:513.69px;font-size:11px;line-height:11px;color:#474747;white-space:nowrap;transform:translateX(-50%) scaleX(1.0);">2.5</div>
<div style="position:absolute;left:744.72px;top:513.69px;font-size:11px;line-height:11px;color:#474747;white-space:nowrap;transform:translateX(-50%) scaleX(1.0);">3</div>
<div style="position:absolute;left:795.59px;top:513.69px;font-size:11px;line-height:11px;color:#474747;white-space:nowrap;transform:translateX(-50%) scaleX(1.0);">3.5</div>
<div style="position:absolute;left:846.46px;top:513.69px;font-size:11px;line-height:11px;color:#474747;white-space:nowrap;transform:translateX(-50%) scaleX(1.0);">4</div>
<div style="position:absolute;left:897.33px;top:513.69px;font-size:11px;line-height:11px;color:#474747;white-space:nowrap;transform:translateX(-50%) scaleX(1.0);">4.5</div>
<div style="position:absolute;left:948.20px;top:513.69px;font-size:11px;line-height:11px;color:#474747;white-space:nowrap;transform:translateX(-50%) scaleX(1.0);">5</div>
<div style="position:absolute;right:560.00px;top:503.59px;font-size:11px;line-height:11px;color:#474747;white-space:nowrap;">-0.4</div>
<div style="position:absolute;right:560.00px;top:460.09px;font-size:11px;line-height:11px;color:#474747;white-space:nowrap;">-0.2</div>
<div style="position:absolute;right:560.00px;top:416.59px;font-size:11px;line-height:11px;color:#474747;white-space:nowrap;">0</div>
<div style="position:absolute;right:560.00px;top:373.09px;font-size:11px;line-height:11px;color:#474747;white-space:nowrap;">0.2</div>
<div style="position:absolute;right:560.00px;top:329.59px;font-size:11px;line-height:11px;color:#474747;white-space:nowrap;">0.4</div>
<div style="position:absolute;right:560.00px;top:286.09px;font-size:11px;line-height:11px;color:#474747;white-space:nowrap;">0.6</div>
<div style="position:absolute;right:560.00px;top:242.59px;font-size:11px;line-height:11px;color:#474747;white-space:nowrap;">0.8</div>
<div style="position:absolute;right:560.00px;top:199.09px;font-size:11px;line-height:11px;color:#474747;white-space:nowrap;">1</div>
<div style="position:absolute;right:560.00px;top:155.59px;font-size:11px;line-height:11px;color:#474747;white-space:nowrap;">1.2</div>
<div style="position:absolute;left:694.80px;top:527.00px;font-size:12.4px;line-height:12.4px;color:#383838;white-space:nowrap;transform:translateX(-50%) scaleX(1.0);">Time (s)</div>
<div style="position:absolute;left:407px;top:334.8px;width:0;height:0"><div style="position:absolute;left:0;top:0;transform:translate(-50%,-50%) rotate(-90deg);font-size:12.2px;line-height:12.2px;color:#383838;white-space:nowrap;">Voltage (V)</div></div>
<div style="position:absolute;left:922.00px;top:526.99px;font-size:11px;line-height:11px;color:#474747;white-space:nowrap;">×10</div>
<div style="position:absolute;left:940.60px;top:527.03px;font-size:8px;line-height:8px;color:#474747;white-space:nowrap;">-6</div>
</div></body></html>
